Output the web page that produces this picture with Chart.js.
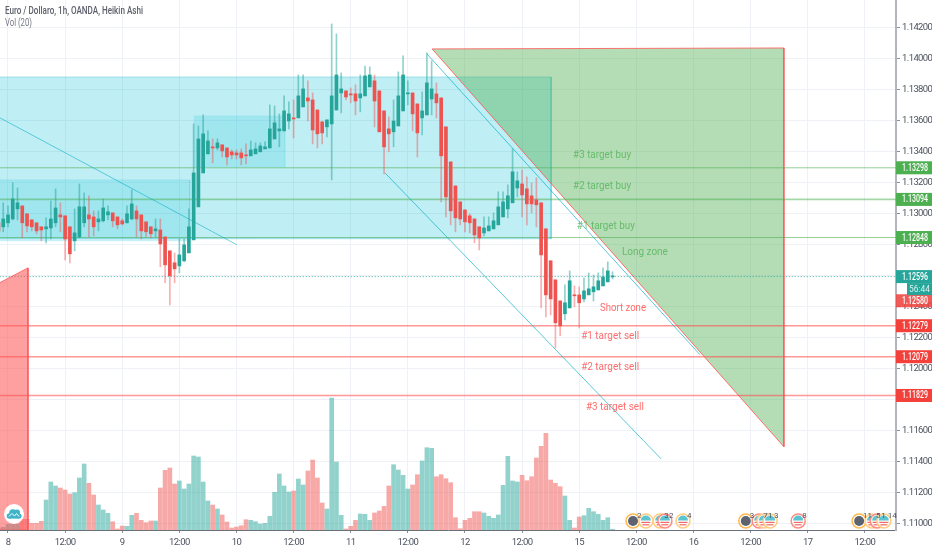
<!DOCTYPE html>
<html>
<head>
<meta charset="utf-8">
<style>html,body{margin:0;padding:0;background:#fff}canvas{display:block}</style>
<script src="https://cdn.jsdelivr.net/npm/chart.js@4/dist/chart.umd.js"></script>
</head>
<body>
<canvas id="c" width="932" height="550"></canvas>
<script>
// Heikin Ashi candles, first entry is two hours before the tick labelled "8"
const opens = [1.12943,1.12917,1.12943,1.12968,1.13033,1.13052,1.13001,1.12962,1.12943,1.12917,
1.12904,1.12910,1.12943,1.12994,1.12988,1.12917,1.12827,1.12852,1.12943,1.12994,
1.12981,1.12949,1.12956,1.12994,1.13007,1.12981,1.12956,1.12943,1.12968,1.13020,
1.12994,1.12949,1.12917,1.12891,1.12897,1.12852,1.12762,1.12685,1.12665,1.12698,
1.12749,1.12833,1.13046,1.13265,1.13388,1.13433,1.13426,1.13446,1.13426,1.13401,
1.13394,1.13394,1.13381,1.13375,1.13388,1.13401,1.13420,1.13426,1.13484,1.13536,
1.13536,1.13600,1.13620,1.13620,1.13691,1.13749,1.13736,1.13671,1.13594,1.13562,
1.13581,1.13671,1.13781,1.13794,1.13775,1.13775,1.13749,1.13762,1.13820,1.13859,
1.13794,1.13665,1.13549,1.13530,1.13568,1.13665,1.13775,1.13781,1.13710,1.13620,
1.13639,1.13742,1.13775,1.13749,1.13562,1.13336,1.13181,1.13078,1.13026,1.12988,
1.12968,1.12917,1.12878,1.12891,1.12904,1.12930,1.12981,1.13033,1.13072,1.13168,
1.13194,1.13162,1.13117,1.13091,1.13072,1.12904,1.12698,1.12575,1.12439,1.12356,
1.12394,1.12478,1.12478,1.12452,1.12478,1.12498,1.12510,1.12536,1.12562,1.12594];
const closes = [1.12891,1.12968,1.12994,1.13097,1.13072,1.12943,1.12923,1.12917,1.12891,1.12897,
1.12917,1.12968,1.13039,1.12981,1.12839,1.12743,1.12878,1.13046,1.13046,1.12968,
1.12917,1.12968,1.13039,1.13014,1.12956,1.12930,1.12936,1.13001,1.13065,1.12968,
1.12891,1.12885,1.12872,1.12904,1.12807,1.12672,1.12601,1.12646,1.12736,1.12801,
1.12917,1.13265,1.13484,1.13517,1.13471,1.13426,1.13459,1.13407,1.13368,1.13381,
1.13381,1.13362,1.13375,1.13413,1.13420,1.13439,1.13433,1.13549,1.13588,1.13549,
1.13665,1.13646,1.13613,1.13762,1.13807,1.13729,1.13542,1.13517,1.13523,1.13607,
1.13762,1.13897,1.13807,1.13755,1.13768,1.13729,1.13775,1.13891,1.13897,1.13729,
1.13530,1.13433,1.13517,1.13600,1.13762,1.13897,1.13781,1.13646,1.13523,1.13665,
1.13846,1.13807,1.13717,1.13375,1.13110,1.13020,1.12975,1.12968,1.12949,1.12943,
1.12865,1.12846,1.12910,1.12923,1.12956,1.13046,1.13078,1.13117,1.13272,1.13214,
1.13123,1.13065,1.13065,1.13059,1.12736,1.12478,1.12452,1.12298,1.12278,1.12427,
1.12569,1.12472,1.12427,1.12504,1.12517,1.12530,1.12569,1.12594,1.12633,1.12596];
const highs = [1.12943,1.13072,1.13052,1.13201,1.13168,1.13052,1.13001,1.12962,1.12943,1.12917,
1.12975,1.13084,1.13162,1.13072,1.12988,1.12917,1.13033,1.13194,1.13136,1.13117,
1.13020,1.13020,1.13097,1.13052,1.13007,1.12981,1.12968,1.13052,1.13155,1.13052,
1.12994,1.12949,1.12917,1.12968,1.12968,1.12852,1.12762,1.12749,1.12839,1.12839,
1.13033,1.13581,1.13568,1.13639,1.13536,1.13484,1.13484,1.13446,1.13426,1.13413,
1.13413,1.13420,1.13452,1.13471,1.13459,1.13459,1.13465,1.13704,1.13697,1.13646,
1.13762,1.13723,1.13736,1.13897,1.13897,1.13859,1.13781,1.13671,1.13600,1.13607,
1.14226,1.14162,1.13910,1.13794,1.13813,1.13833,1.13897,1.13955,1.13949,1.13897,
1.13794,1.13665,1.13626,1.13736,1.13917,1.14020,1.13859,1.13781,1.13710,1.13788,
1.14039,1.13988,1.13846,1.13749,1.13562,1.13336,1.13181,1.13078,1.13026,1.13001,
1.12968,1.12917,1.12981,1.12981,1.13007,1.13143,1.13143,1.13188,1.13420,1.13272,
1.13284,1.13239,1.13201,1.13233,1.13072,1.12904,1.12698,1.12575,1.12439,1.12543,
1.12633,1.12536,1.12530,1.12588,1.12620,1.12607,1.12620,1.12652,1.12691,1.12627];
const lows = [1.12891,1.12885,1.12917,1.12962,1.12962,1.12846,1.12885,1.12891,1.12872,1.12827,
1.12814,1.12839,1.12917,1.12885,1.12704,1.12685,1.12762,1.12846,1.12917,1.12852,
1.12859,1.12891,1.12949,1.12962,1.12917,1.12904,1.12930,1.12943,1.12962,1.12852,
1.12839,1.12852,1.12846,1.12852,1.12659,1.12556,1.12414,1.12556,1.12620,1.12691,
1.12749,1.12833,1.13046,1.13265,1.13388,1.13330,1.13413,1.13368,1.13317,1.13355,
1.13355,1.13317,1.13323,1.13375,1.13388,1.13401,1.13420,1.13426,1.13484,1.13433,
1.13536,1.13549,1.13491,1.13620,1.13691,1.13600,1.13452,1.13426,1.13452,1.13497,
1.13220,1.13671,1.13652,1.13736,1.13717,1.13639,1.13659,1.13762,1.13820,1.13562,
1.13530,1.13259,1.13401,1.13433,1.13568,1.13665,1.13704,1.13536,1.13368,1.13510,
1.13639,1.13639,1.13620,1.13078,1.12981,1.12930,1.12885,1.12930,1.12885,1.12878,
1.12814,1.12768,1.12859,1.12891,1.12904,1.12930,1.12981,1.12975,1.13072,1.13110,
1.12981,1.12930,1.13007,1.12917,1.12394,1.12336,1.12349,1.12136,1.12214,1.12317,
1.12394,1.12401,1.12265,1.12433,1.12478,1.12439,1.12510,1.12536,1.12562,1.12581];
const volumes = [20,27,57,57,57,107,107,67,67,87,
300,480,440,420,400,360,373,520,660,467,
350,250,200,167,83,10,40,37,147,167,
97,73,90,90,420,597,620,460,490,410,
460,740,730,480,290,250,210,150,80,20,
30,43,103,97,83,60,67,137,377,560,
440,380,390,510,450,590,700,520,270,210,
1320,680,147,10,37,97,160,157,97,170,
190,237,440,653,600,547,410,450,553,690,
823,817,533,553,513,473,123,13,97,117,
183,183,170,137,117,150,447,737,490,480,
547,493,533,720,837,967,500,467,433,340,
97,20,130,143,217,183,157,97,123,7];
const firstHour = -2;

const xTickHours = [0,12,24,36,48,60,72,84,96,108,120,132,144,156,168,180];
const xTickLabels = ['8','12:00','9','12:00','10','12:00','11','12:00','12','12:00','15','12:00','16','12:00','17','12:00'];
const yTickValues = [1.11,1.112,1.114,1.116,1.118,1.12,1.122,1.124,1.126,1.128,1.13,1.132,1.134,1.136,1.138,1.14,1.142];

const bigBox = [{x:-3,y:1.13884},{x:114.1,y:1.13884},{x:114.1,y:1.12840},{x:-3,y:1.12840},{x:-3,y:1.13884}];
const leftBox = [{x:-3,y:1.13220},{x:38.2,y:1.13220},{x:38.2,y:1.12827},{x:-3,y:1.12827},{x:-3,y:1.13220}];
const midBox = [{x:39.1,y:1.13633},{x:58.2,y:1.13633},{x:58.2,y:1.13303},{x:39.1,y:1.13303},{x:39.1,y:1.13633}];
const longWedge = [{x:89.1,y:1.14065},{x:163,y:1.14071},{x:163,y:1.11498},{x:89.1,y:1.14065}];
const shortWedge = [{x:-3,y:1.12536},{x:4.2,y:1.12652},{x:4.2,y:1.1096},{x:-3,y:1.1096}];
const trendA = [{x:-1.68,y:1.13620},{x:48.1,y:1.12801}];
const channelUpper = [{x:88,y:1.14033},{x:145.4,y:1.12091}];
const channelLower = [{x:79.2,y:1.13265},{x:137.2,y:1.11420}];
const buyTargets = [1.13298,1.13094,1.12848];
const sellTargets = [1.12279,1.12079,1.11829];
const lastPrice = 1.12596;
const realCloseLevel = 1.12440;
const realCloseText = '1.12580';
const countdown = '56:44';

const noteTexts = ['#3 target buy','#2 target buy','#1 target buy','Long zone','Short zone','#1 target sell','#2 target sell','#3 target sell'];
const noteHours = [124.8,124.8,125.6,133.8,129.2,126.5,126.5,127.5];
const notePrices = [1.13375,1.13178,1.12920,1.12752,1.12391,1.12210,1.12010,1.11752];

const eventHours = [131.3,134,137,138,141.8,155,157.8,158.8,160.1,166,178.8,181.5,182.6,184];
const eventKinds = ['d','f','f','f','f','d','f','f','f','f','d','f','f','f'];
const eventLabels = ['2','','3','2','4','3','7','1','3','8','11','5','1','14'];

const hours = opens.map((_, i) => i + firstHour);
const GREEN = '#26a69a', RED = '#ef5350';
const up = i => closes[i] >= opens[i];
const FONT = 'Roboto, sans-serif';

const shape = (data, fill, stroke, order, width) => ({
  type:'line', data, order, fill:'shape', backgroundColor:fill, borderColor:stroke,
  borderWidth:width, pointRadius:0, tension:0, xAxisID:'x', yAxisID:'y'
});
const line = (data, stroke, order, width, dash) => ({
  type:'line', data, order, fill:false, borderColor:stroke, borderWidth:width,
  borderDash:dash || [], pointRadius:0, tension:0, xAxisID:'x', yAxisID:'y'
});
const level = v => [{x:-3,y:v},{x:190,y:v}];

const overlay = {
  id:'overlay',
  beforeDraw(chart){
    // the axis labels of the reference are set tighter than any installed face
    chart.ctx.letterSpacing = '-0.6px';
  },
  afterDraw(chart){
    const {ctx, scales:{x,y}, chartArea:a} = chart;
    ctx.letterSpacing = '0px';
    ctx.save();
    // header
    ctx.textBaseline = 'middle'; ctx.textAlign = 'left';
    ctx.font = '500 11px ' + FONT; ctx.fillStyle = '#5d606b';
    ctx.fillText('Euro / Dollaro, 1h, OANDA, Heikin Ashi', 5, 11, 138);
    ctx.font = '11px ' + FONT; ctx.fillStyle = '#787b86';
    ctx.fillText('Vol (20)', 5, 23, 27);
    // chart notes
    ctx.textAlign = 'center'; ctx.font = '10.5px ' + FONT;
    noteTexts.forEach((t,i) => {
      ctx.fillStyle = i < 4 ? 'rgba(76,175,80,0.75)' : 'rgba(255,82,82,0.85)';
      ctx.fillText(t, x.getPixelForValue(noteHours[i]), y.getPixelForValue(notePrices[i]), i < 3 || i > 4 ? 58 : 46);
    });
    // calendar events
    const ey = a.bottom - 9;
    eventHours.forEach((h,i) => {
      const ex = x.getPixelForValue(h);
      ctx.beginPath(); ctx.arc(ex, ey, 7, 0, Math.PI*2);
      ctx.fillStyle = 'rgba(255,255,255,0.85)'; ctx.fill();
      ctx.strokeStyle = eventKinds[i] === 'd' ? '#ffb74d' : (i % 3 === 0 ? '#ff8a80' : '#ffcc80');
      ctx.lineWidth = 1.5; ctx.stroke();
      if (eventKinds[i] === 'd') {
        ctx.beginPath(); ctx.arc(ex, ey, 5, 0, Math.PI*2); ctx.fillStyle = '#5d6470'; ctx.fill();
      } else {
        ctx.beginPath(); ctx.arc(ex, ey-0.5, 5, Math.PI, Math.PI*2); ctx.fillStyle = '#5bc4d1'; ctx.fill();
        ctx.fillStyle = '#f26a66'; ctx.fillRect(ex-4.5, ey+0.8, 9, 1.2); ctx.fillRect(ex-3.5, ey+3.2, 7, 1.2);
      }
    });
    ctx.font = '8px ' + FONT; ctx.fillStyle = '#4c525e'; ctx.textAlign = 'left';
    eventHours.forEach((h,i) => {
      if (eventLabels[i]) ctx.fillText(eventLabels[i], x.getPixelForValue(h) + 4, ey - 5);
    });
    // logo
    ctx.beginPath(); ctx.arc(14, 514, 10, 0, Math.PI*2); ctx.fillStyle = '#fff'; ctx.fill();
    ctx.fillStyle = '#3fb4c8';
    [[9.5,516,2.8],[13,513,3.8],[17,512.5,3],[19,516,2.6]].forEach(c => { ctx.beginPath(); ctx.arc(c[0],c[1],c[2],0,Math.PI*2); ctx.fill(); });
    ctx.fillRect(9.5,515,9.5,3.6);
    ctx.strokeStyle = '#fff'; ctx.lineWidth = 1; ctx.beginPath(); ctx.moveTo(9,516.5); ctx.lineTo(12,513.5); ctx.lineTo(14.5,516); ctx.lineTo(16.5,513.5); ctx.lineTo(19,516.5); ctx.stroke();
    // price tags
    const tag = (v, text, col, h) => {
      const py = y.getPixelForValue(v);
      ctx.fillStyle = col; ctx.fillRect(a.right, py-h/2, 36, h);
      ctx.fillStyle = '#fff'; ctx.font = '500 10px ' + FONT; ctx.textAlign = 'left';
      ctx.fillText(text, a.right + 6, py + 0.5, 26);
    };
    buyTargets.forEach(v => tag(v, v.toFixed(5), '#4caf50', 13));
    sellTargets.forEach(v => tag(v, v.toFixed(5), '#f4403a', 13));
    tag(realCloseLevel, realCloseText, 'rgba(239,68,64,0.88)', 13);
    tag(lastPrice, lastPrice.toFixed(5), GREEN, 13);
    const py = y.getPixelForValue(lastPrice) + 13;
    ctx.fillStyle = GREEN; ctx.fillRect(907, py-6.5, 25, 12);
    ctx.fillStyle = '#d8f2ef'; ctx.font = '9px ' + FONT;
    ctx.fillText(countdown, 909, py, 21);
    ctx.restore();
  }
};

new Chart(document.getElementById('c'), {
  type:'bar',
  data:{ datasets:[
    shape(shortWedge,'rgba(255,82,82,0.55)','rgba(255,82,82,0.8)',1,1),
    { type:'bar', order:3, data:hours.map((h,i)=>({x:h,y:[opens[i],closes[i]]})),
      backgroundColor:hours.map((_,i)=>up(i)?GREEN:RED), barThickness:3, minBarLength:1, grouped:false, xAxisID:'x', yAxisID:'y' },
    { type:'bar', order:4, data:hours.map((h,i)=>({x:h,y:[lows[i],highs[i]]})),
      backgroundColor:hours.map((_,i)=>up(i)?'rgba(38,166,154,0.5)':'rgba(239,83,80,0.45)'), barThickness:1, grouped:false, xAxisID:'x', yAxisID:'y' },
    line(trendA,'rgba(0,172,193,0.55)',5,1),
    line(channelUpper,'rgba(0,172,193,0.65)',5,1),
    line(channelLower,'rgba(0,172,193,0.65)',5,1),
    line(level(buyTargets[0]),'rgba(76,175,80,0.6)',6,1),
    line(level(buyTargets[1]),'rgba(76,175,80,0.5)',6,1.6),
    line(level(buyTargets[2]),'rgba(76,175,80,0.6)',6,1),
    line(level(sellTargets[0]),'rgba(255,82,82,0.6)',6,1.6),
    line(level(sellTargets[1]),'rgba(255,82,82,0.6)',6,1.6),
    line(level(sellTargets[2]),'rgba(255,82,82,0.6)',6,1.6),
    line(level(lastPrice),'rgba(38,166,154,0.9)',6,1,[1,2]),
    shape(longWedge,'rgba(76,175,80,0.42)','rgba(255,82,82,0.8)',7,1),
    shape(midBox,'rgba(0,188,212,0.17)','rgba(0,188,212,0.08)',8,1),
    shape(leftBox,'rgba(0,188,212,0.17)','rgba(0,188,212,0.15)',9,1),
    shape(bigBox,'rgba(0,188,212,0.25)','rgba(0,172,193,0.3)',10,1),
    { type:'bar', order:11, data:hours.map((h,i)=>({x:h,y:volumes[i]})),
      backgroundColor:hours.map((_,i)=>up(i)?'rgba(38,166,154,0.5)':'rgba(239,83,80,0.5)'), barThickness:4, grouped:false, xAxisID:'x', yAxisID:'vol' }
  ]},
  options:{
    responsive:false, animation:false, devicePixelRatio:1,
    layout:{padding:0},
    plugins:{legend:{display:false},tooltip:{enabled:false}},
    scales:{
      x:{ type:'linear', position:'bottom', min:-1.68, max:186.55, offset:false,
        grid:{offset:false,color:'#eef2f7',tickLength:3,tickColor:'#8a8f99'},
        border:{color:'#6b7078',width:1},
        ticks:{autoSkip:false,maxRotation:0,padding:4,color:'#4c525e',font:{family:'Roboto',size:9.5},
          callback:v=>{const k=xTickHours.indexOf(v);return k<0?'':xTickLabels[k];}},
        afterBuildTicks(s){s.ticks=xTickHours.map(v=>({value:v}));},
        afterFit(s){s.height=20;s.paddingLeft=0;s.paddingRight=0;s.paddingTop=0;s.paddingBottom=0;}
      },
      y:{ type:'linear', position:'right', min:1.10961, max:1.143806,
        grid:{color:'#eef2f7',tickLength:4,tickColor:'#8a8f99'},
        border:{color:'#b2b5be',width:2},
        ticks:{autoSkip:false,padding:2,color:'#4c525e',font:{family:'Roboto',size:9.5},callback:v=>v.toFixed(5)},
        afterBuildTicks(s){s.ticks=yTickValues.map(v=>({value:v}));},
        afterFit(s){s.width=36;s.paddingLeft=0;s.paddingRight=0;s.paddingTop=0;s.paddingBottom=0;}
      },
      vol:{ type:'linear', display:false, min:0, max:5300, grid:{display:false} }
    }
  },
  plugins:[overlay]
});
</script>
</body>
</html>
